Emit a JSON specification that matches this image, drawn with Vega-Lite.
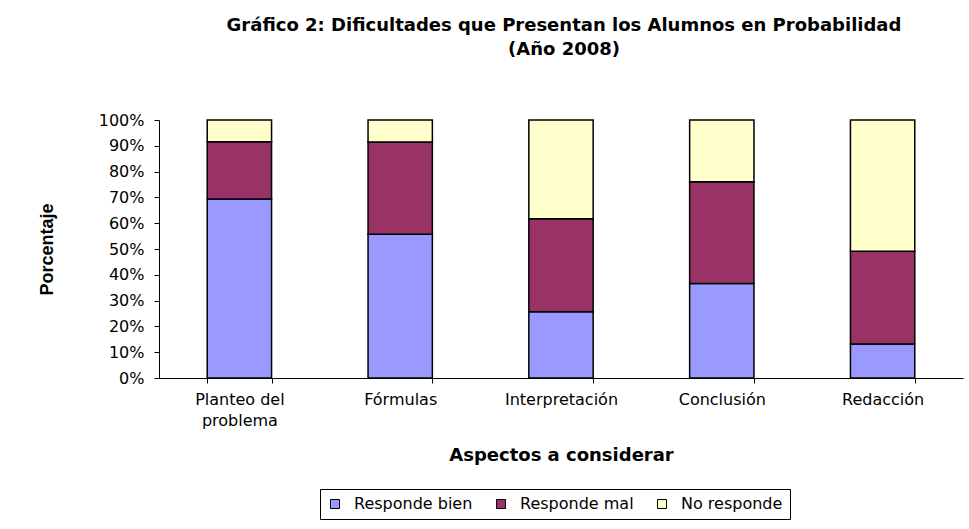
{
  "$schema": "https://vega.github.io/schema/vega-lite/v6.json",
  "width": 804,
  "height": 258,
  "autosize": {"type": "none"},
  "padding": {"left": 159, "top": 120, "right": 6, "bottom": 151},
  "background": "white",
  "title": {
    "text": ["Gráfico 2: Dificultades que Presentan los Alumnos en Probabilidad", "(Año 2008)"],
    "anchor": "middle",
    "frame": "group",
    "dx": 3,
    "offset": 53,
    "font": "DejaVu Sans",
    "fontSize": 18,
    "fontWeight": "bold",
    "lineHeight": 24,
    "color": "black"
  },
  "data": {
    "values": [
      {"aspecto": "Planteo del problema", "respuesta": "Responde bien", "valor": 0.694},
      {"aspecto": "Planteo del problema", "respuesta": "Responde mal", "valor": 0.222},
      {"aspecto": "Planteo del problema", "respuesta": "No responde", "valor": 0.084},
      {"aspecto": "Fórmulas", "respuesta": "Responde bien", "valor": 0.557},
      {"aspecto": "Fórmulas", "respuesta": "Responde mal", "valor": 0.358},
      {"aspecto": "Fórmulas", "respuesta": "No responde", "valor": 0.085},
      {"aspecto": "Interpretación", "respuesta": "Responde bien", "valor": 0.257},
      {"aspecto": "Interpretación", "respuesta": "Responde mal", "valor": 0.360},
      {"aspecto": "Interpretación", "respuesta": "No responde", "valor": 0.383},
      {"aspecto": "Conclusión", "respuesta": "Responde bien", "valor": 0.366},
      {"aspecto": "Conclusión", "respuesta": "Responde mal", "valor": 0.395},
      {"aspecto": "Conclusión", "respuesta": "No responde", "valor": 0.239},
      {"aspecto": "Redacción", "respuesta": "Responde bien", "valor": 0.132},
      {"aspecto": "Redacción", "respuesta": "Responde mal", "valor": 0.359},
      {"aspecto": "Redacción", "respuesta": "No responde", "valor": 0.509}
    ]
  },
  "transform": [
    {"calculate": "indexof(['Responde bien', 'Responde mal', 'No responde'], datum.respuesta)", "as": "orden"}
  ],
  "mark": {"type": "bar", "stroke": "black", "strokeWidth": 1.5},
  "encoding": {
    "x": {
      "field": "aspecto",
      "type": "nominal",
      "sort": ["Planteo del problema", "Fórmulas", "Interpretación", "Conclusión", "Redacción"],
      "scale": {"paddingInner": 0.6, "paddingOuter": 0.3},
      "axis": {
        "title": "Aspectos a considerar",
        "labelAngle": 0,
        "tickBand": "extent",
        "labelExpr": "datum.value == 'Planteo del problema' ? ['Planteo del', 'problema'] : datum.label",
        "labelLineHeight": 21,
        "labelPadding": 8,
        "titlePadding": 18
      }
    },
    "y": {
      "field": "valor",
      "type": "quantitative",
      "stack": "zero",
      "scale": {"domain": [0, 1], "nice": false},
      "axis": {
        "title": "Porcentaje",
        "format": ".0%",
        "values": [0, 0.1, 0.2, 0.3, 0.4, 0.5, 0.6, 0.7, 0.8, 0.9, 1],
        "labelPadding": 10,
        "titleFont": "Liberation Sans",
        "titleFontSize": 18,
        "titleX": -112,
        "titleY": 129,
        "titleAngle": -90,
        "titleAlign": "center",
        "titleBaseline": "middle"
      }
    },
    "order": {"field": "orden", "type": "quantitative", "sort": "ascending"},
    "color": {
      "field": "respuesta",
      "type": "nominal",
      "sort": ["Responde bien", "Responde mal", "No responde"],
      "scale": {
        "domain": ["Responde bien", "Responde mal", "No responde"],
        "range": ["#9999FF", "#993366", "#FFFFCC"]
      },
      "legend": {
        "title": null,
        "orient": "none",
        "direction": "horizontal",
        "legendX": 161,
        "legendY": 369,
        "strokeColor": "black",
        "fillColor": "white",
        "padding": 7,
        "symbolType": "square",
        "symbolSize": 81,
        "symbolStrokeColor": "black",
        "symbolStrokeWidth": 1,
        "symbolOpacity": 1,
        "labelOffset": 11,
        "columnPadding": 20,
        "labelFont": "DejaVu Sans",
        "labelFontSize": 16,
        "labelColor": "black"
      }
    }
  },
  "config": {
    "view": {"stroke": null},
    "axis": {
      "grid": false,
      "domainColor": "black",
      "domainWidth": 1,
      "tickColor": "black",
      "tickSize": 5,
      "labelFont": "DejaVu Sans",
      "labelFontSize": 16,
      "labelColor": "black",
      "titleFont": "DejaVu Sans",
      "titleFontSize": 18,
      "titleFontWeight": "bold",
      "titleColor": "black"
    }
  }
}
